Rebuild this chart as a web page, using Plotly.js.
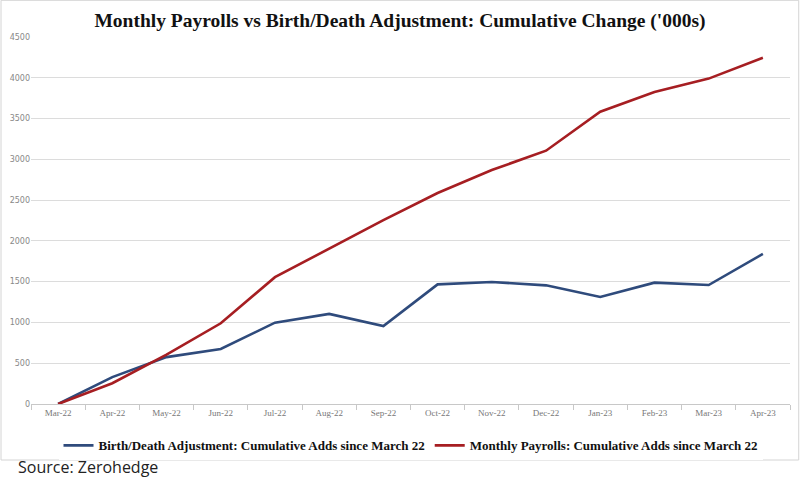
<!DOCTYPE html>
<html>
<head>
<meta charset="utf-8">
<script src="https://cdn.plot.ly/plotly-3.0.1.min.js"></script>
<style>html,body{margin:0;padding:0;background:#fff;}#chart{width:800px;height:480px;}</style>
</head>
<body>
<div id="chart"></div>
<script>
const months = ["Mar-22","Apr-22","May-22","Jun-22","Jul-22","Aug-22","Sep-22","Oct-22","Nov-22","Dec-22","Jan-23","Feb-23","Mar-23","Apr-23"];
const birthDeath = [0, 330, 575, 675, 997, 1105, 956, 1467, 1496, 1455, 1312, 1488, 1459, 1840];
const payrolls = [0, 255, 605, 990, 1555, 1905, 2255, 2587, 2869, 3106, 3584, 3825, 3990, 4245];
const yTicks = [0, 500, 1000, 1500, 2000, 2500, 3000, 3500, 4000, 4500];

const serif = "Liberation Serif, DejaVu Serif, serif";
const traces = [
  {x: months, y: birthDeath, type: "scatter", mode: "lines", name: "<b>Birth/Death Adjustment: Cumulative Adds since March 22</b>",
   line: {color: "#2F4B7C", width: 2.6}},
  {x: months, y: payrolls, type: "scatter", mode: "lines", name: "<b>Monthly Payrolls: Cumulative Adds since March 22</b>",
   line: {color: "#A61E22", width: 2.6}}
];
const layout = {
  width: 800, height: 480,
  margin: {l: 31, r: 10, t: 37, b: 76},
  paper_bgcolor: "#fff", plot_bgcolor: "#fff",
  title: {text: "<b>Monthly Payrolls vs Birth/Death Adjustment: Cumulative Change ('000s)</b>",
          font: {family: serif, size: 19.5, color: "#111"}, x: 0.5, xanchor: "center", y: 0.958, yanchor: "middle"},
  xaxis: {type: "category", range: [-0.5, 13.5], tickson: "boundaries", ticks: "outside", ticklen: 5,
          tickcolor: "#c8c8c8", showline: true, linecolor: "#c8c8c8", linewidth: 1, showgrid: false,
          tickfont: {family: serif, size: 9, color: "#777"}, fixedrange: true},
  yaxis: {range: [0, 4500], tickvals: yTicks, ticktext: yTicks.map(String), showgrid: true, gridcolor: "#dcdcdc",
          gridwidth: 1, zeroline: false, showline: false, ticks: "",
          tickfont: {family: "DejaVu Sans, sans-serif", size: 8, color: "#888"}},
  showlegend: true,
  legend: {orientation: "h", x: 0.5, xanchor: "center", y: -0.072, yanchor: "top",
           font: {family: serif, size: 13, color: "#111"}, itemwidth: 20, tracegroupgap: 0},
  annotations: [{text: "Source: Zerohedge", xref: "paper", yref: "paper", x: -0.02, y: -0.172, xanchor: "left", yanchor: "middle",
                 showarrow: false, font: {family: "Open Sans, DejaVu Sans, sans-serif", size: 16, color: "#222"}}],
  shapes: [{type: "rect", xref: "paper", yref: "paper", x0: -0.0395, x1: 1.0115, y0: -0.1526, y1: 1.1,
            line: {color: "#d4d4d4", width: 1}}]
};
Plotly.newPlot("chart", traces, layout, {displayModeBar: false, staticPlot: true});
</script>
</body>
</html>
